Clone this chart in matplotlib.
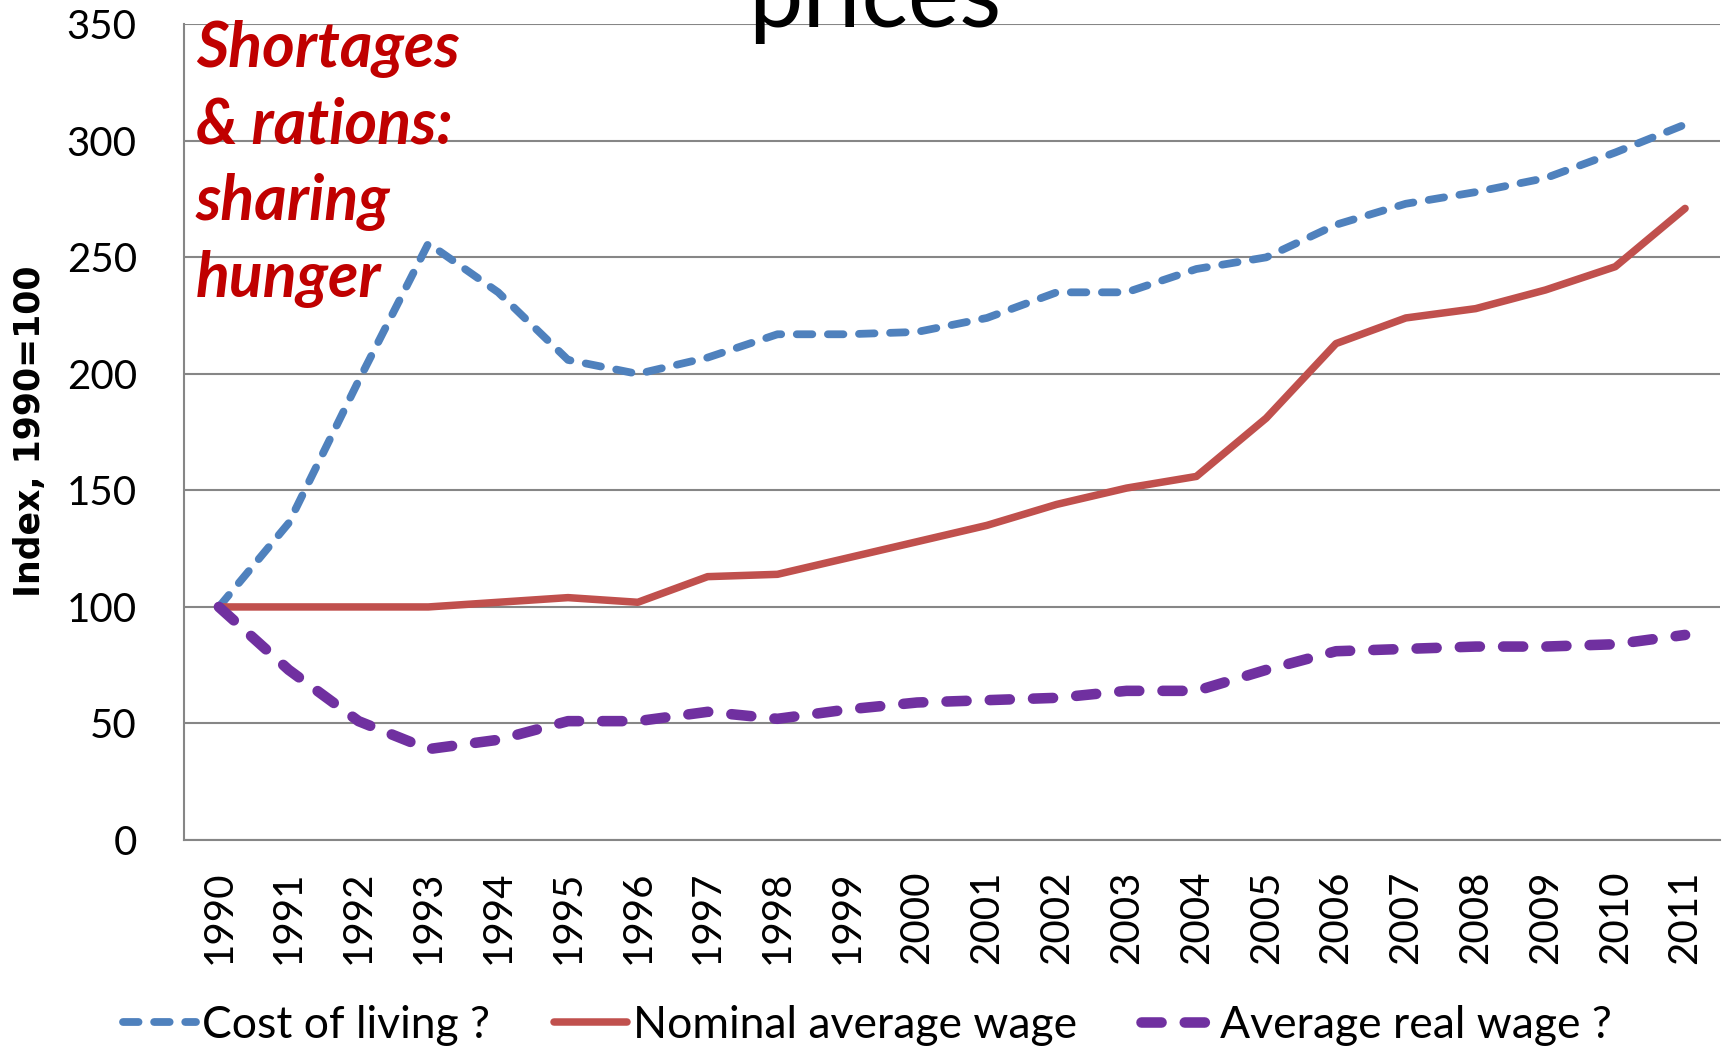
import matplotlib
matplotlib.use("Agg")
import matplotlib.pyplot as plt
import numpy as np

years = [str(y) for y in range(1990, 2012)]
cost_of_living = [100, 136, 197, 256, 235, 206, 200, 207, 217, 217, 218, 224,
                  235, 235, 245, 250, 264, 273, 278, 284, 295, 307]
nominal_wage = [100, 100, 100, 100, 102, 104, 102, 113, 114, 121, 128, 135,
                144, 151, 156, 181, 213, 224, 228, 236, 246, 271]
real_wage = [100, 73, 51, 39, 43, 51, 51, 55, 52, 56, 59, 60,
             61, 64, 64, 73, 81, 82, 83, 83, 84, 88]
series_labels = ["Cost of living ?", "Nominal average wage", "Average real wage ?"]
yticks = [0, 50, 100, 150, 200, 250, 300, 350]
note_lines = ["Shortages", "& rations:", "sharing", "hunger"]

W, H = 1725, 1047
fig = plt.figure(figsize=(W / 100, H / 100), dpi=100)
ax = fig.add_axes([184 / W, 1 - 840 / H, (1720 - 184) / W, (840 - 24.3) / H])

x = np.arange(len(years))
grid_c = "#868686"
ax.plot(x, cost_of_living, color="#4F81BD", lw=5.6, linestyle=(0, (2.0, 2.0)),
        dash_capstyle="round", solid_capstyle="round", label=series_labels[0], zorder=3)
ax.plot(x, nominal_wage, color="#C0504D", lw=5.4, solid_capstyle="round",
        solid_joinstyle="round", label=series_labels[1], zorder=3)
ax.plot(x, real_wage, color="#7030A0", lw=7.6, linestyle=(0, (1.9, 2.2)),
        dash_capstyle="round", label=series_labels[2], zorder=3)

ax.set_xlim(-0.5, len(years) - 0.5)
ax.set_ylim(0, 350)
ax.set_yticks(yticks)
ax.set_xticks(x)
ax.set_xticklabels(years, rotation=90)
for lab in ax.get_xticklabels() + ax.get_yticklabels():
    lab.set_family("Lato")
    lab.set_fontsize(29)
ax.tick_params(axis="y", length=0, pad=34)
ax.tick_params(axis="x", length=0, pad=22)
ax.yaxis.grid(True, color=grid_c, lw=1.5, zorder=0)
ax.set_axisbelow(True)
for s in ["top", "right"]:
    ax.spines[s].set_visible(False)
for s in ["left", "bottom"]:
    ax.spines[s].set_color(grid_c)
    ax.spines[s].set_linewidth(1.5)

# partially visible title
fig.text(875 / W, 1 - 27 / H, "prices", ha="center", va="baseline",
         fontsize=70, family="Lato", color="black")

# y label
fig.text(30 / W, 1 - 431 / H, "Index, 1990=100", rotation=90, ha="center",
         va="center", fontsize=25, fontweight="bold", family="DejaVu Sans")

# red annotation
baselines = [67, 143, 220, 297]
for txt, b in zip(note_lines, baselines):
    fig.text(196 / W, 1 - b / H, txt, ha="left", va="baseline", fontsize=45,
             fontweight="bold", fontstyle="italic", family="Lato", color="#C00000")

leg = fig.legend(loc="center left", bbox_to_anchor=(123 / W, 1 - 1025 / H),
                 ncol=3, frameon=False, borderpad=0, borderaxespad=0,
                 handlelength=1.65, handletextpad=0.12, columnspacing=1.45,
                 prop={"family": "Lato", "size": 32})

fig.savefig("out.png", dpi=100)
